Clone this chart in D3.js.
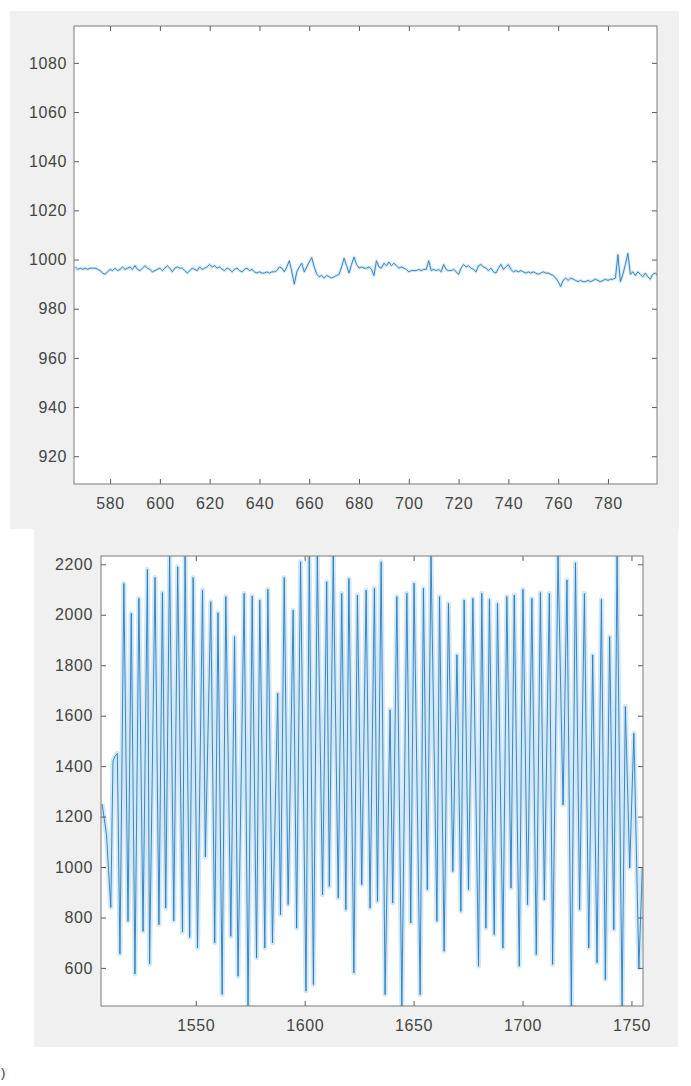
<!DOCTYPE html>
<html>
<head>
<meta charset="utf-8">
<script src="https://cdn.jsdelivr.net/npm/d3@7"></script>
<style>
  body { margin: 0; background: #fff; }
  svg { display: block; }
  .tick text { font-family: "Liberation Sans", Arial, sans-serif; font-size: 16px; fill: #444; letter-spacing: 0.6px; }
  .tick line { stroke: #5a5a5a; }
</style>
</head>
<body>
<svg id="fig" width="691" height="1086"></svg>
<script>
// top panel: one sample per index, starting at topStart
const topStart = 566;
const topValues = [
  997, 996, 996.5, 996, 996.5, 996, 996.5, 996.5, 996.5, 996,
  995.5, 994.5, 994, 995, 996, 995.5, 996.5, 995.5, 996, 997,
  996, 996.5, 997, 996, 997.5, 996, 995.5, 996.5, 997.5, 996.5,
  996, 995, 995.5, 996, 996.5, 995.5, 996.5, 997.5, 996.5, 995,
  996.5, 997, 996.5, 996.5, 995.5, 994.5, 995.5, 996.5, 996, 995.5,
  997, 996, 996.5, 997, 998, 997, 997.5, 996.5, 997, 996,
  995.5, 996.5, 996, 995, 996, 996.5, 995.5, 995, 996, 996.5,
  995.5, 996, 995, 994.5, 995, 994.5, 994.5, 995, 994.5, 995,
  995, 995.5, 997, 996.5, 995, 997, 999.5, 995, 990, 995,
  997, 998.5, 995, 997, 999, 1000.8, 997, 994, 993, 993.5,
  992.5, 993.5, 993, 992.5, 993, 993.5, 994, 997, 1000.5, 997.5,
  994.5, 998, 1001, 998, 996.5, 997, 996.5, 996.5, 997, 996,
  993.5, 999.5, 997, 996.5, 998.5, 997.5, 999, 997.5, 998.5, 997.5,
  996.5, 997, 996.5, 996, 995, 995.5, 995.5, 995.5, 996, 995.5,
  996, 996, 999.5, 995.5, 996, 995.5, 996, 995, 998, 996,
  995.5, 995.5, 996, 995, 994, 996.5, 998, 997, 997.5, 996.5,
  996, 995, 997.5, 998, 997, 996.5, 995.5, 996.5, 995, 994.5,
  996.5, 998, 996, 997, 998, 996, 995, 995.5, 995, 995.5,
  995, 994.5, 995, 994.5, 995, 994.5, 994, 994.5, 995, 994.5,
  994.5, 994, 993.5, 992.5, 991, 989, 991.5, 992.5, 991.5, 992.5,
  992, 991.5, 991, 991.5, 991, 991, 991.5, 991, 991.5, 992,
  991.5, 991, 991.5, 992, 991.5, 992, 992, 992.5, 1002, 991,
  994, 998, 1002.5, 994, 995, 993.5, 995, 994, 993, 994.5,
  993, 992, 994, 994.5, 993.5
];
const topXTicks = [580, 600, 620, 640, 660, 680, 700, 720, 740, 760, 780];
const topYTicks = [920, 940, 960, 980, 1000, 1020, 1040, 1060, 1080];

// bottom panel: turning points (peaks / troughs)
const bottomX = [
  1507, 1509, 1511, 1512, 1513, 1514, 1515.2, 1517, 1518.9, 1520.4,
  1522.1, 1523.9, 1525.8, 1527.8, 1528.8, 1531.3, 1533.1, 1534.7, 1536.2, 1538,
  1539.9, 1541.7, 1543.9, 1545.1, 1547.2, 1548.8, 1550.8, 1553.1, 1554.4, 1556.9,
  1558.7, 1560.2, 1562.1, 1563.8, 1566.1, 1567.8, 1569.4, 1572.2, 1574, 1575.9,
  1577.9, 1579.4, 1581.7, 1583.1, 1585.2, 1587.6, 1588.9, 1590.6, 1592.4, 1594.7,
  1596.3, 1598.1, 1600.6, 1602.1, 1604, 1605.8, 1608.2, 1610.1, 1611.3, 1613.1,
  1615.4, 1617, 1618.9, 1620.3, 1622.6, 1624.2, 1626.2, 1628.2, 1630, 1632,
  1633.4, 1635.1, 1636.9, 1639.2, 1640.4, 1642.3, 1644.6, 1646.9, 1648.7, 1650.2,
  1653, 1654.5, 1656.3, 1658, 1660.7, 1661.9, 1664, 1666, 1668, 1669.9,
  1671.7, 1673.2, 1675.2, 1677.2, 1679.8, 1681.3, 1683.2, 1684.8, 1687, 1688.5,
  1691, 1692.8, 1694.7, 1696.2, 1698.5, 1700.2, 1702.3, 1704.3, 1706.3, 1708.2,
  1710, 1712.3, 1713.8, 1716.3, 1718.6, 1720.4, 1722.4, 1724.3, 1726.2, 1728.4,
  1730.4, 1732.2, 1734.2, 1736.2, 1738, 1740, 1741.9, 1743.4, 1745.7, 1747.2,
  1749.2, 1751.1, 1753.4, 1755
];
const bottomY = [
  1250, 1130, 840, 1420, 1440, 1450, 655, 2124, 785, 2006,
  576, 2065, 745, 2180, 616, 2148, 771, 2088, 837, 2233,
  787, 2190, 742, 2233, 721, 2148, 679, 2098, 1040, 2052,
  699, 2008, 495, 2072, 725, 1913, 567, 2085, 449, 2074,
  640, 2058, 679, 2101, 699, 1689, 811, 2148, 851, 2019,
  758, 2210, 508, 2233, 534, 2233, 890, 2131, 923, 2233,
  877, 2085, 831, 2144, 580, 2078, 930, 2098, 837, 2105,
  864, 2210, 494, 1623, 857, 2072, 449, 2085, 778, 2125,
  494, 2105, 910, 2233, 785, 2072, 666, 2045, 982, 1841,
  824, 2058, 910, 2065, 607, 2085, 758, 2061, 732, 2045,
  679, 2072, 917, 2078, 607, 2101, 851, 2065, 653, 2088,
  870, 2085, 614, 2233, 1246, 2138, 449, 2206, 831, 2085,
  679, 1841, 620, 2061, 554, 1913, 752, 2233, 449, 1636,
  996, 1530, 600, 1000
];
const bottomXTicks = [1550, 1600, 1650, 1700, 1750];
const bottomYTicks = [600, 800, 1000, 1200, 1400, 1600, 1800, 2000, 2200];

const svg = d3.select("#fig");

// figure backgrounds
svg.append("rect").attr("x", 10).attr("y", 11).attr("width", 669).attr("height", 518).attr("fill", "#f0f0f0");
svg.append("rect").attr("x", 34).attr("y", 529).attr("width", 644).attr("height", 518).attr("fill", "#f0f0f0");

function drawPanel(opt) {
    const {left, right, top, bottom, xDomain, yDomain, xTicks, yTicks, pts, id, xPad, yPad, halo} = opt;
    const x = d3.scaleLinear().domain(xDomain).range([left, right]);
    const y = d3.scaleLinear().domain(yDomain).range([bottom, top]);
    const fmt = d3.format("d");

    svg.append("rect")
        .attr("x", left).attr("y", top)
        .attr("width", right - left).attr("height", bottom - top)
        .attr("fill", "#fff");

    svg.append("clipPath").attr("id", id)
        .append("rect")
        .attr("x", left).attr("y", top)
        .attr("width", right - left).attr("height", bottom - top);

    const line = d3.line().x(d => x(d[0])).y(d => y(d[1]));

    const g = svg.append("g").attr("clip-path", `url(#${id})`);
    // soft halo to mimic the blurred trace of the reference
    g.append("path").datum(pts)
        .attr("d", line)
        .attr("fill", "none")
        .attr("stroke", "#9ccbee")
        .attr("stroke-opacity", 0.45)
        .attr("stroke-width", halo)
        .attr("stroke-linejoin", "round");
    g.append("path").datum(pts)
        .attr("d", line)
        .attr("fill", "none")
        .attr("stroke", "#2a7cbc")
        .attr("stroke-width", 0.9)
        .attr("stroke-linejoin", "round");

    const tick = 5;
    svg.append("g").attr("transform", `translate(0,${bottom})`)
        .call(d3.axisBottom(x).tickValues(xTicks).tickSizeInner(-tick).tickSizeOuter(0).tickPadding(xPad).tickFormat(fmt))
        .call(s => s.select(".domain").remove());
    svg.append("g").attr("transform", `translate(0,${top})`)
        .call(d3.axisTop(x).tickValues(xTicks).tickSizeInner(-tick).tickSizeOuter(0).tickFormat(""))
        .call(s => s.select(".domain").remove());
    svg.append("g").attr("transform", `translate(${left},0)`)
        .call(d3.axisLeft(y).tickValues(yTicks).tickSizeInner(-tick).tickSizeOuter(0).tickPadding(yPad).tickFormat(fmt))
        .call(s => s.select(".domain").remove());
    svg.append("g").attr("transform", `translate(${right},0)`)
        .call(d3.axisRight(y).tickValues(yTicks).tickSizeInner(-tick).tickSizeOuter(0).tickFormat(""))
        .call(s => s.select(".domain").remove());

    svg.append("rect")
        .attr("x", left).attr("y", top)
        .attr("width", right - left).attr("height", bottom - top)
        .attr("fill", "none")
        .attr("stroke", "#7a7a7a")
        .attr("stroke-width", 1);
}

drawPanel({
    id: "clipTop",
    left: 74, right: 657, top: 26, bottom: 484,
    xDomain: [565.5, 799.7], yDomain: [908.7, 1095],
    xTicks: topXTicks, yTicks: topYTicks,
    pts: topValues.map((v, i) => [topStart + i, v]),
    xPad: 14, yPad: 7, halo: 3
});

drawPanel({
    id: "clipBottom",
    left: 101, right: 643, top: 556, bottom: 1006,
    xDomain: [1506.5, 1755.3], yDomain: d3.extent(bottomY),
    xTicks: bottomXTicks, yTicks: bottomYTicks,
    pts: bottomX.map((v, i) => [v, bottomY[i]]),
    xPad: 14, yPad: 8, halo: 5
});

// fragment of a caption at the bottom-left edge
svg.append("text")
    .attr("x", 1).attr("y", 1077)
    .attr("font-family", "Liberation Sans, Arial, sans-serif")
    .attr("font-size", 13)
    .attr("fill", "#333")
    .text(")");
</script>
</body>
</html>
